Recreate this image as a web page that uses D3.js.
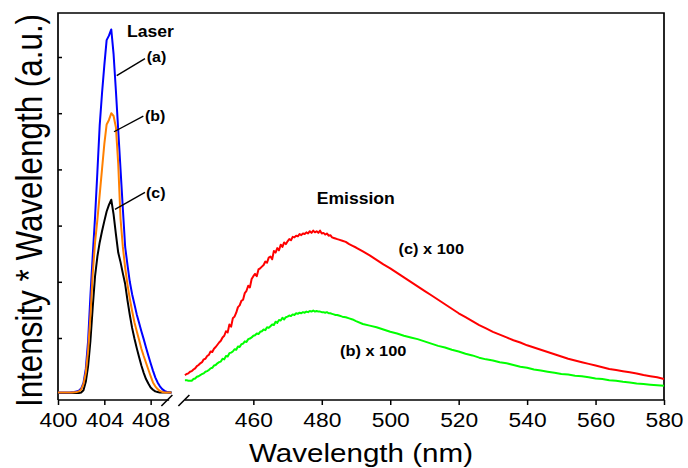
<!DOCTYPE html>
<html>
<head>
<meta charset="utf-8">
<script src="https://cdn.jsdelivr.net/npm/d3@7/dist/d3.min.js"></script>
<style>
  body { margin: 0; background: #fff; }
  text { font-family: "Liberation Sans", Arial, Helvetica, sans-serif; }
</style>
</head>
<body>
<div id="chart"></div>
<script>
// laser lines (a), (b), (c) - wavelength grid in nm
const laserWl = [400.0, 400.2, 400.4, 400.6, 400.8, 401.0, 401.2, 401.4, 401.6, 401.8,
                 402.0, 402.2, 402.4, 402.6, 402.8, 403.0, 403.2, 403.4, 403.6, 403.8,
                 404.0, 404.2, 404.4, 404.6, 404.8, 405.0, 405.2, 405.4, 405.6, 405.8,
                 406.0, 406.2, 406.4, 406.6, 406.8, 407.0, 407.2, 407.4, 407.6, 407.8,
                 408.0, 408.2, 408.4, 408.6, 408.8, 409.0, 409.2, 409.4, 409.6, 409.8];
const laserA = [0.03, 0.03, 0.03, 0.03, 0.03, 0.03, 0.035, 0.04, 0.05, 0.06,
                0.10, 0.20, 0.45, 0.95, 1.75, 2.47, 3.15, 3.95, 4.78, 5.35,
                5.85, 6.30, 6.38, 6.49, 6.05, 5.40, 4.70, 4.00, 3.30, 2.62,
                2.30, 2.00, 1.78, 1.60, 1.42, 1.27, 1.12, 0.98, 0.83, 0.69,
                0.55, 0.42, 0.30, 0.21, 0.14, 0.09, 0.06, 0.04, 0.03, 0.03];
const laserB = [0.03, 0.03, 0.03, 0.03, 0.03, 0.03, 0.03, 0.035, 0.04, 0.05,
                0.08, 0.18, 0.38, 0.78, 1.40, 2.15, 2.70, 3.10, 3.55, 4.00,
                4.45, 4.80, 4.88, 5.00, 4.95, 4.75, 4.10, 3.12, 2.62, 2.25,
                1.95, 1.70, 1.48, 1.28, 1.12, 0.97, 0.81, 0.68, 0.56, 0.44,
                0.32, 0.21, 0.14, 0.09, 0.06, 0.04, 0.03, 0.03, 0.03, 0.03];
const laserC = [0.02, 0.02, 0.02, 0.02, 0.02, 0.02, 0.02, 0.02, 0.02, 0.02,
                0.03, 0.07, 0.22, 0.50, 0.95, 1.55, 2.10, 2.45, 2.70, 2.90,
                3.08, 3.25, 3.37, 3.46, 3.20, 2.85, 2.52, 2.35, 2.15, 1.96,
                1.67, 1.41, 1.18, 0.99, 0.82, 0.66, 0.51, 0.38, 0.27, 0.19,
                0.12, 0.08, 0.05, 0.04, 0.03, 0.03, 0.03, 0.03, 0.03, 0.03];

// emission spectra (x 100)
const emisWl = [440.0, 440.5, 441.0, 441.5, 442.0, 442.5, 443.0, 443.5, 444.0, 444.5,
                445.0, 445.5, 446.0, 446.5, 447.0, 447.5, 448.0, 448.5, 449.0, 449.5,
                450.0, 450.5, 451.0, 451.5, 452.0, 452.5, 453.0, 453.5, 454.0, 454.5,
                455.0, 455.5, 456.0, 456.5, 457.0, 457.5, 458.0, 458.5, 459.0, 459.5,
                460.0, 460.5, 461.0, 461.5, 462.0, 462.5, 463.0, 463.5, 464.0, 464.5,
                465.0, 465.5, 466.0, 466.5, 467.0, 467.5, 468.0, 468.5, 469.0, 469.5,
                470.0, 470.5, 471.0, 471.5, 472.0, 472.5, 473.0, 473.5, 474.0, 474.5,
                475.0, 475.5, 476.0, 476.5, 477.0, 477.5, 478.0, 478.5, 479.0, 479.5,
                480.0, 480.5, 481.0, 481.5, 482.0, 482.5, 483.0, 483.5, 484.0, 484.5,
                485, 486, 487, 488, 489, 490, 492, 494, 496, 498,
                500, 502, 504, 506, 508, 510, 512, 514, 516, 518,
                520, 522, 524, 526, 528, 530, 532, 534, 536, 538,
                540, 542, 544, 546, 548, 550, 552, 554, 556, 558,
                560, 562, 564, 566, 568, 570, 572, 574, 576, 578,
                580];
const emisC = [0.34, 0.36, 0.37, 0.40, 0.41, 0.44, 0.46, 0.50, 0.52, 0.55,
               0.57, 0.62, 0.63, 0.68, 0.70, 0.76, 0.75, 0.81, 0.84, 0.88,
               0.92, 0.95, 1.01, 1.04, 1.12, 1.10, 1.24, 1.20, 1.35, 1.38,
               1.45, 1.55, 1.58, 1.66, 1.68, 1.80, 1.84, 1.93, 1.90, 2.05,
               2.10, 2.14, 2.10, 2.22, 2.24, 2.27, 2.30, 2.36, 2.34, 2.43,
               2.45, 2.40, 2.55, 2.52, 2.60, 2.56, 2.66, 2.62, 2.70, 2.67,
               2.72, 2.76, 2.74, 2.80, 2.79, 2.82, 2.81, 2.85, 2.83, 2.86,
               2.85, 2.88, 2.86, 2.90, 2.87, 2.91, 2.88, 2.90, 2.87, 2.91,
               2.86, 2.87, 2.84, 2.86, 2.82, 2.83, 2.79, 2.78, 2.77, 2.76,
               2.75, 2.73, 2.71, 2.67, 2.64, 2.61, 2.54, 2.47, 2.39, 2.31,
               2.24, 2.16, 2.08, 2.00, 1.92, 1.84, 1.76, 1.68, 1.60, 1.52,
               1.44, 1.37, 1.30, 1.23, 1.17, 1.11, 1.06, 1.01, 0.96, 0.92,
               0.87, 0.83, 0.79, 0.75, 0.71, 0.67, 0.63, 0.60, 0.57, 0.54,
               0.51, 0.48, 0.45, 0.43, 0.41, 0.39, 0.37, 0.34, 0.32, 0.30,
               0.27];
const emisB = [0.25, 0.25, 0.24, 0.24, 0.24, 0.27, 0.28, 0.31, 0.32, 0.34,
               0.36, 0.37, 0.40, 0.41, 0.43, 0.46, 0.47, 0.51, 0.52, 0.55,
               0.57, 0.58, 0.63, 0.62, 0.68, 0.67, 0.73, 0.74, 0.76, 0.80,
               0.79, 0.85, 0.84, 0.89, 0.90, 0.94, 0.93, 0.98, 0.99, 1.01,
               1.04, 1.05, 1.08, 1.07, 1.11, 1.12, 1.15, 1.14, 1.19, 1.18,
               1.21, 1.24, 1.23, 1.29, 1.27, 1.32, 1.31, 1.36, 1.33, 1.37,
               1.38, 1.40, 1.39, 1.42, 1.41, 1.44, 1.43, 1.45, 1.44, 1.46,
               1.45, 1.47, 1.46, 1.48, 1.47, 1.49, 1.47, 1.48, 1.47, 1.47,
               1.46, 1.46, 1.45, 1.46, 1.44, 1.44, 1.43, 1.42, 1.41, 1.41,
               1.40, 1.38, 1.37, 1.35, 1.33, 1.30, 1.25, 1.22, 1.19, 1.15,
               1.11, 1.08, 1.04, 1.01, 0.98, 0.94, 0.90, 0.86, 0.83, 0.79,
               0.76, 0.72, 0.69, 0.65, 0.62, 0.60, 0.57, 0.55, 0.52, 0.49,
               0.47, 0.44, 0.42, 0.40, 0.38, 0.36, 0.35, 0.33, 0.32, 0.30,
               0.28, 0.27, 0.25, 0.24, 0.22, 0.21, 0.19, 0.18, 0.17, 0.16,
               0.15];

const leftTicks = [400, 404, 408];
const rightTicks = [460, 480, 500, 520, 540, 560, 580];
const yTicks = [1, 2, 3, 4, 5, 6];

const width = 688, height = 468;
const plotTop = 13, plotBottom = 400;
const sx = 1.16; // the figure is a bit stretched horizontally

const svg = d3.select("#chart").append("svg")
    .attr("width", width)
    .attr("height", height);

const xL = d3.scaleLinear().domain([400, 410]).range([58, 173.8]);
const xR = d3.scaleLinear().domain([440, 580]).range([184.9, 664]);
const y = d3.scaleLinear().domain([0, 6]).range([394.2, 57]);

// frame
svg.append("path")
    .attr("d", `M${xL(400)},${plotBottom}V${plotTop}H${xR(580)}V${plotBottom}`)
    .attr("fill", "none")
    .attr("stroke", "#000")
    .attr("stroke-width", 1.7);

// x axes (split)
const axL = svg.append("g")
    .attr("transform", `translate(0,${plotBottom})`)
    .call(d3.axisBottom(xL).tickValues(leftTicks).tickSize(5).tickSizeOuter(0));
axL.select(".domain").attr("d", `M${xL(400)},0H${xL(409.6)}`);

const axR = svg.append("g")
    .attr("transform", `translate(0,${plotBottom})`)
    .call(d3.axisBottom(xR).tickValues(rightTicks).tickSize(5).tickSizeOuter(0));
axR.select(".domain").attr("d", `M${xR(440)},0H${xR(580)}`);

[axL, axR].forEach(ax => {
    ax.select(".domain").attr("stroke-width", 1.7);
    ax.selectAll(".tick line").attr("stroke-width", 1.5);
    ax.selectAll(".tick text")
        .attr("y", 0)
        .attr("dy", 0)
        .attr("transform", "translate(0,26.5) scale(1.17,1)")
        .attr("font-size", 19.5)
        .attr("font-family", "'Liberation Sans', Arial, sans-serif")
        .attr("fill", "#000");
});

// break marks "//"
const brk = [xL(409.4), xR(439.7)];
svg.append("g").selectAll("line")
    .data(brk)
    .enter()
    .append("line")
    .attr("x1", d => d - 5.5)
    .attr("y1", plotBottom + 6)
    .attr("x2", d => d + 5.5)
    .attr("y2", plotBottom - 5)
    .attr("stroke", "#000")
    .attr("stroke-width", 1.6);

// y ticks (inward, no labels)
const axY = svg.append("g")
    .attr("transform", `translate(${xL(400)},0)`)
    .call(d3.axisRight(y).tickValues(yTicks).tickSize(4).tickFormat(""));
axY.select(".domain").remove();
axY.selectAll(".tick line").attr("stroke-width", 1.5);

// curves
const lineL = d3.line().x(d => xL(d[0])).y(d => y(d[1]));
const lineR = d3.line().x(d => xR(d[0])).y(d => y(d[1]));

const curves = [
    { wl: emisWl, v: emisB, color: "#00ff00", line: lineR },
    { wl: emisWl, v: emisC, color: "#ff0000", line: lineR },
    { wl: laserWl, v: laserC, color: "#000000", line: lineL },
    { wl: laserWl, v: laserA, color: "#0000ff", line: lineL },
    { wl: laserWl, v: laserB, color: "#ff8000", line: lineL }
];

curves.forEach(c => {
    svg.append("path")
        .datum(c.wl.map((w, i) => [w, c.v[i]]))
        .attr("d", c.line)
        .attr("fill", "none")
        .attr("stroke", c.color)
        .attr("stroke-width", 2)
        .attr("stroke-linejoin", "round");
});

// annotations
function label(txt, x, yy, size, bold, sxx) {
    svg.append("text")
        .attr("transform", `translate(${x},${yy}) scale(${sxx || sx},1)`)
        .attr("font-size", size)
        .attr("font-weight", bold ? "bold" : "normal")
        .attr("fill", "#000")
        .text(txt);
}

label("Laser", xL(405.96), y(6.36), 16, true, 1.1);
label("(a)", xL(407.66), y(5.91), 14.5, true, 1.1);
label("(b)", xL(407.51), y(4.86), 14.5, true, 1.1);
label("(c)", xL(407.6), y(3.49), 14.5, true, 1.1);
label("Emission", xR(478.5), y(3.38), 16, true, 1.1);
label("(c) x 100", xR(502.4), y(2.49), 14.5, true, 1.13);
label("(b) x 100", xR(485.3), y(0.68), 14.5, true, 1.13);

// leader lines for laser labels
const leaders = [
    [[407.51, 5.97], [405.07, 5.67]],
    [[407.37, 4.95], [404.84, 4.67]],
    [[407.51, 3.59], [404.92, 3.29]]
];
svg.append("g").selectAll("line")
    .data(leaders)
    .enter()
    .append("line")
    .attr("x1", d => xL(d[0][0]))
    .attr("y1", d => y(d[0][1]))
    .attr("x2", d => xL(d[1][0]))
    .attr("y2", d => y(d[1][1]))
    .attr("stroke", "#000")
    .attr("stroke-width", 1.4);

// axis titles
svg.append("text")
    .attr("transform", `translate(${(xL(400) + xR(580)) / 2},462) scale(${sx},1)`)
    .attr("text-anchor", "middle")
    .attr("font-size", 25.5)
    .attr("fill", "#000")
    .text("Wavelength (nm)");

svg.append("text")
    .attr("transform", `translate(42,${(plotTop + 408) / 2}) scale(1.15,1) rotate(-90)`)
    .attr("text-anchor", "middle")
    .attr("font-size", 31.4)
    .attr("fill", "#000")
    .text("Intensity * Wavelength (a.u.)");
</script>
</body>
</html>
